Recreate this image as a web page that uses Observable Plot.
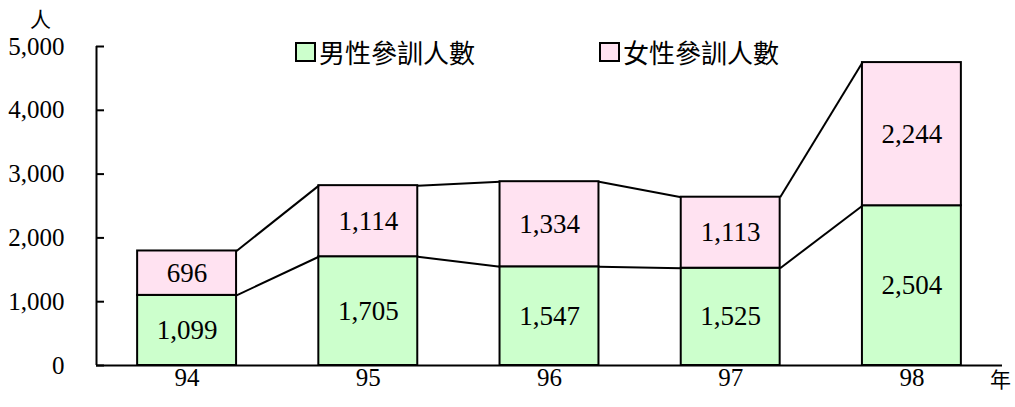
<!DOCTYPE html>
<html>
<head>
<meta charset="utf-8">
<script src="https://cdn.jsdelivr.net/npm/d3@7"></script>
<script src="https://cdn.jsdelivr.net/npm/@observablehq/plot@0.6"></script>
<style>
  html, body { margin: 0; padding: 0; background: #fff; }
  #wrap { position: relative; width: 1015px; height: 407px; }
  .lg { position: absolute; font-family: "Noto Sans CJK TC", sans-serif; font-size: 26px; line-height: 1; color: #000; white-space: nowrap; }
  .box { position: absolute; width: 17px; height: 16px; border: 2px solid #000; }
  .unit { position: absolute; font-family: "Noto Sans CJK TC", sans-serif; font-size: 21px; line-height: 1; color: #000; }
</style>
</head>
<body>
<div id="wrap"></div>
<script>
const years = [94, 95, 96, 97, 98];
const male = [1099, 1705, 1547, 1525, 2504];
const female = [696, 1114, 1334, 1113, 2244];
const seriesNames = ["男性參訓人數", "女性參訓人數"];
const yTicks = [0, 1000, 2000, 3000, 4000, 5000];
const colors = ["#ccffcc", "#ffe2f1"];

const hw = 0.273; // half bar width in year units
const xDomain = [93.5, 98.5];

const rows = [];
years.forEach((yr, i) => {
  rows.push({year: yr, s: seriesNames[0], y1: 0, y2: male[i], v: male[i]});
  rows.push({year: yr, s: seriesNames[1], y1: male[i], y2: male[i] + female[i], v: female[i]});
});
const links = [];
for (let i = 0; i < years.length - 1; i++) {
  links.push({x1: years[i] + hw, x2: years[i + 1] - hw, y1: male[i], y2: male[i + 1]});
  links.push({x1: years[i] + hw, x2: years[i + 1] - hw, y1: male[i] + female[i], y2: male[i + 1] + female[i + 1]});
}

const plot = Plot.plot({
  width: 1015,
  height: 407,
  marginLeft: 96,
  marginRight: 13,
  marginTop: 46,
  marginBottom: 42,
  style: {fontFamily: "'Liberation Serif', 'Times New Roman', serif", background: "#fff", color: "#000"},
  x: {type: "linear", domain: xDomain},
  y: {domain: [0, 5000]},
  color: {domain: seriesNames, range: colors},
  marks: [
    Plot.rectY(rows, {x1: d => d.year - hw, x2: d => d.year + hw, y1: "y1", y2: "y2", fill: "s", stroke: "#000", strokeWidth: 2}),
    Plot.link(links, {x1: "x1", x2: "x2", y1: "y1", y2: "y2", stroke: "#000", strokeWidth: 2}),
    Plot.text(rows, {x: "year", y: d => (d.y1 + d.y2) / 2, text: d => d3.format(",")(d.v), fontSize: 27, fill: "#000"}),
    Plot.ruleX([xDomain[0]], {stroke: "#000", strokeWidth: 2}),
    Plot.ruleY([0], {stroke: "#000", strokeWidth: 2}),
    Plot.axisY({ticks: yTicks, tickFormat: d3.format(","), tickSize: -8, tickPadding: 40, fontSize: 25, strokeWidth: 2, stroke: "#000", label: null}),
    Plot.axisX({ticks: years, tickFormat: d => String(d), tickSize: 0, tickPadding: 3, fontSize: 25, label: null})
  ]
});

const wrap = document.getElementById("wrap");
wrap.appendChild(plot);

function addLegend(x, color, name) {
  const b = document.createElement("div");
  b.className = "box";
  b.style.left = x + "px"; b.style.top = "42px"; b.style.background = color;
  wrap.appendChild(b);
  const t = document.createElement("div");
  t.className = "lg";
  t.textContent = name;
  t.style.left = (x + 24) + "px"; t.style.top = "39px";
  wrap.appendChild(t);
}
addLegend(295, colors[0], seriesNames[0]);
addLegend(599, colors[1], seriesNames[1]);

const u1 = document.createElement("div");
u1.className = "unit"; u1.textContent = "人"; u1.style.left = "30px"; u1.style.top = "8px";
wrap.appendChild(u1);
const u2 = document.createElement("div");
u2.className = "unit"; u2.textContent = "年"; u2.style.left = "990px"; u2.style.top = "368px";
wrap.appendChild(u2);
</script>
</body>
</html>
